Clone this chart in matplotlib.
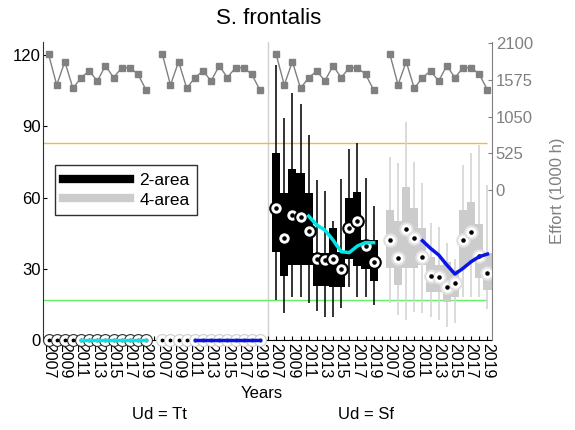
import matplotlib
matplotlib.use('Agg')
import matplotlib.pyplot as plt
from matplotlib.lines import Line2D

plt.rcParams['font.family'] = ['Liberation Sans', 'DejaVu Sans']

years = [2007, 2008, 2009, 2010, 2011, 2012, 2013, 2014, 2015, 2016, 2017, 2018, 2019]
trend_years = [2011, 2012, 2013, 2014, 2015, 2016, 2017, 2018, 2019]

# effort (1000 h), same in every panel
effort = [1940, 1502, 1835, 1454, 1606, 1702, 1559, 1778, 1606, 1749, 1749, 1655, 1430]

# Ud = Tt : everything at zero
tt2_mid = [0, 0, 0, 0, 0, 0, 0, 0, 0, 0, 0, 0, 0]
tt4_mid = [0, 0, 0, 0, 0, 0, 0, 0, 0, 0, 0, 0, 0]
tt2_trend = [0, 0, 0, 0, 0, 0, 0, 0, 0]
tt4_trend = [0, 0, 0, 0, 0, 0, 0, 0, 0]

# Ud = Sf, 2-area
sf2_mid = [55.5, 42.9, 52.7, 52.0, 45.7, 34.2, 33.5, 34.0, 29.8, 47.1, 50.3, 39.4, 32.8]
sf2_box_lo = [37.2, 27.0, 31.6, 31.6, 31.6, 22.9, 22.9, 22.5, 22.5, 34.0, 31.0, 29.8, 25.0]
sf2_box_hi = [78.7, 61.9, 72.0, 70.3, 61.9, 36.5, 36.5, 47.1, 37.2, 59.8, 62.3, 42.2, 42.2]
sf2_wh_lo = [16.8, 11.2, 18.2, 18.2, 15.4, 12.3, 9.8, 9.8, 13.3, 22.5, 18.2, 18.2, 14.7]
sf2_wh_hi = [115.8, 93.3, 104.0, 99.2, 86.3, 67.5, 62.6, 50.0, 67.8, 80.4, 83.0, 68.2, 56.5]
sf2_trend = [52.2, 48.4, 46.3, 42.1, 37.2, 36.8, 39.6, 41.0, 41.0]

# Ud = Sf, 4-area
sf4_mid = [42.1, 34.4, 46.7, 43.1, 34.8, 26.9, 26.7, 22.5, 23.9, 42.1, 45.6, 35.4, 28.3]
sf4_box_lo = [30.2, 23.2, 30.2, 30.2, 31.6, 20.4, 20.4, 16.1, 18.2, 30.2, 33.0, 26.0, 21.0]
sf4_box_hi = [54.7, 50.0, 64.3, 55.4, 47.0, 35.1, 31.6, 33.0, 29.5, 54.7, 58.2, 48.8, 36.5]
sf4_wh_lo = [15.4, 10.5, 8.4, 12.0, 11.4, 9.8, 8.4, 5.6, 7.0, 18.2, 18.2, 18.2, 13.0]
sf4_wh_hi = [77.2, 74.4, 92.0, 75.1, 66.0, 49.1, 47.7, 40.7, 34.0, 73.7, 78.6, 82.0, 65.3]
sf4_trend = [41.8, 38.6, 35.8, 31.6, 27.8, 30.2, 33.0, 35.1, 36.2]

orange_ref = 83.1
green_ref = 16.8

GRAY_BOX = '#cccccc'
GRAY_WH = '#d4d4d4'


def xpos(group, yrs):
    return [group * 14 + (y - years[0]) + 1 for y in yrs]


fig = plt.figure(figsize=(5.75, 4.3), dpi=100)
ax = fig.add_axes([0.0753, 0.2093, 0.7795, 0.693])

ax.axvline(28, color='#d0d0d0', lw=1, zorder=1)
ax.hlines([orange_ref], 0.35, 55, color='#ffb340', lw=1, zorder=1)
ax.hlines([green_ref], 0.35, 55, color='#66ee66', lw=1, zorder=1)

# Ud = Tt (zeros)
x1 = xpos(0, years)
x2 = xpos(1, years)
ax.plot(x1, tt2_mid, 'o', ms=8.5, mfc='white', mec='#303030', mew=0.8, zorder=4, clip_on=False)
ax.plot(x1, tt2_mid, '.', ms=3.5, color='k', zorder=5, clip_on=False)
ax.plot(x2, tt4_mid, 'o', ms=8.5, mfc='white', mec='#cfcfcf', mew=0.8, zorder=4, clip_on=False)
ax.plot(x2, tt4_mid, '.', ms=3.5, color='k', zorder=5, clip_on=False)
ax.plot(xpos(0, trend_years), tt2_trend, color='#00e6e6', lw=2.5, zorder=6, clip_on=False)
ax.plot(xpos(1, trend_years), tt4_trend, color='#0a14e6', lw=2.5, zorder=6, clip_on=False)

# Ud = Sf, 2-area
x3 = xpos(2, years)
ax.vlines(x3, sf2_wh_lo, sf2_wh_hi, color='#111111', lw=1.2, zorder=2)
ax.bar(x3, [h - l for h, l in zip(sf2_box_hi, sf2_box_lo)], bottom=sf2_box_lo,
       width=1.0, color='black', zorder=3)
ax.plot(x3, sf2_mid, 'o', ms=9, mfc='white', mec='black', mew=1.5, zorder=4)
ax.plot(x3, sf2_mid, '.', ms=4.5, color='k', zorder=5)
ax.plot(xpos(2, trend_years), sf2_trend, color='#00e6e6', lw=2.5, zorder=6)

# Ud = Sf, 4-area
x4 = xpos(3, years)
ax.vlines(x4, sf4_wh_lo, sf4_wh_hi, color=GRAY_WH, lw=1.2, zorder=2)
ax.bar(x4, [h - l for h, l in zip(sf4_box_hi, sf4_box_lo)], bottom=sf4_box_lo,
       width=1.0, color=GRAY_BOX, zorder=3)
ax.plot(x4, sf4_mid, 'o', ms=9, mfc='white', mec='#e0e0e0', mew=1.5, zorder=4)
ax.plot(x4, sf4_mid, '.', ms=4.5, color='k', zorder=5)
ax.plot(xpos(3, trend_years), sf4_trend, color='#0a14e6', lw=2.5, zorder=6)

ax.set_xlim(0.35, 55.5)
ax.set_ylim(0, 125.5)
ax.set_yticks([0, 30, 60, 90, 120])
ticks = list(range(1, 56))
labels = []
for t in ticks:
    i = (t - 1) % 14
    if i < 13 and i % 2 == 0:
        labels.append(str(years[i]))
    else:
        labels.append('')
ax.set_xticks(ticks)
ax.set_xticklabels(labels, rotation=270, fontsize=11.5)
ax.tick_params(axis='x', direction='in', length=3, pad=2)
ax.tick_params(axis='y', direction='in', length=3, labelsize=12, pad=2)
ax.spines['top'].set_visible(False)
ax.spines['right'].set_visible(False)
ax.spines['left'].set_color('#303030')

leg_handles = [Line2D([], [], color='black', lw=6),
               Line2D([], [], color=GRAY_BOX, lw=6)]
leg = ax.legend(leg_handles, ['2-area', '4-area'], loc='upper left',
                bbox_to_anchor=(0.026, 0.587), borderaxespad=0, fontsize=12.5,
                handlelength=3.9, fancybox=False, edgecolor='#303030', framealpha=1,
                borderpad=0.45, labelspacing=0.25, handletextpad=0.5)
leg.get_frame().set_linewidth(1.0)

# effort on the right axis
ax2 = ax.twinx()
for g in range(4):
    ax2.plot(xpos(g, years), effort, '-s', color='#808080', ms=4, lw=1)
ax2.set_ylim(-2145, 2116)
ax2.set_yticks([0, 525, 1050, 1575, 2100])
ax2.tick_params(axis='y', direction='in', length=3, labelsize=12, colors='#808080', pad=3)
for s in ['top', 'left', 'bottom']:
    ax2.spines[s].set_visible(False)
ax2.spines['right'].set_color('#808080')

fig.text(0.467, 0.958, 'S. frontalis', ha='center', va='center', fontsize=16)
fig.text(0.970, 0.556, 'Effort (1000 h)', ha='center', va='center', rotation=90,
         fontsize=12, color='#808080')
fig.text(0.455, 0.084, 'Years', ha='center', va='center', fontsize=12)
fig.text(0.277, 0.037, 'Ud = Tt', ha='center', va='center', fontsize=12)
fig.text(0.637, 0.037, 'Ud = Sf', ha='center', va='center', fontsize=12)

fig.savefig('out.png', dpi=100)
